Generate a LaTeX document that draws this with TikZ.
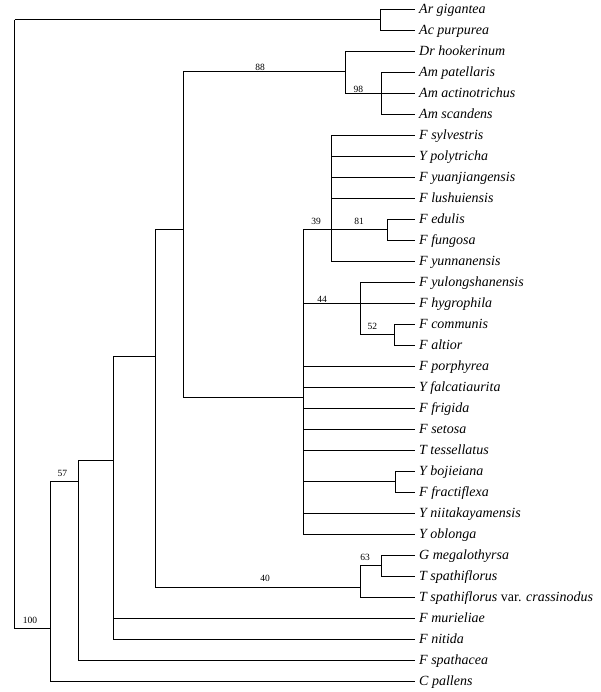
\documentclass[tikz,border=0pt]{standalone}
\usepackage{fontspec}
\setmainfont{Liberation Serif}
\begin{document}
\begin{tikzpicture}[x=1pt,y=-1pt,
  br/.style={line width=0.9pt, black},
  leaf/.style={anchor=base west, inner sep=0pt, font=\fontsize{14}{16}\selectfont\itshape},
  bs/.style={inner sep=0pt, font=\fontsize{9.5}{11}\selectfont}]
\useasboundingbox (0,0) rectangle (600,692);
% leaves
\foreach \n/\i/\t in {
  ar/0/{Ar gigantea}, ac/1/{Ac purpurea}, dr/2/{Dr hookerinum},
  ampat/3/{Am patellaris}, amact/4/{Am actinotrichus}, amsca/5/{Am scandens},
  fsyl/6/{F sylvestris}, ypol/7/{Y polytricha}, fyua/8/{F yuanjiangensis},
  flus/9/{F lushuiensis}, fedu/10/{F edulis}, ffun/11/{F fungosa},
  fyun/12/{F yunnanensis}, fyul/13/{F yulongshanensis}, fhyg/14/{F hygrophila},
  fcom/15/{F communis}, falt/16/{F altior}, fpor/17/{F porphyrea},
  yfal/18/{Y falcatiaurita}, ffri/19/{F frigida}, fset/20/{F setosa},
  ttes/21/{T tessellatus}, yboj/22/{Y bojieiana}, ffra/23/{F fractiflexa},
  ynii/24/{Y niitakayamensis}, yobl/25/{Y oblonga}, gmeg/26/{G megalothyrsa},
  tspa/27/{T spathiflorus}, tvar/28/{T spathiflorus {\upshape var.} crassinodus},
  fmur/29/{F murieliae}, fnit/30/{F nitida}, fspa/31/{F spathacea},
  cpal/32/{C pallens}}{
  \coordinate (\n) at (415,{9.3+21*\i});
  \node[leaf] (\n-t) at (419,{13.6+21*\i}) {\t};
}
% internal nodes
\coordinate (root) at (14.7,19.8);
\coordinate (arac) at (380.7,19.8);
\coordinate (n100) at (50,628.7);
\coordinate (n57) at (78,481.7);
\coordinate (n113) at (113.5,460.7);
\coordinate (n155) at (155.5,356);
\coordinate (n184) at (183.7,229.7);
\coordinate (n88) at (345,71);
\coordinate (n98) at (381,93.3);
\coordinate (nF) at (303.3,397.7);
\coordinate (n39) at (331.7,229.8);
\coordinate (n81) at (387.7,229.8);
\coordinate (n44) at (360,303.3);
\coordinate (n52) at (394.3,334.8);
\coordinate (nbf) at (395,481.8);
\coordinate (n40) at (360.3,587);
\coordinate (n63) at (381,565.8);
% edges
\foreach \p/\c in {root/arac, root/n100, arac/ar, arac/ac,
  n100/n57, n100/cpal, n57/n113, n57/fspa,
  n113/n155, n113/fmur, n113/fnit,
  n155/n184, n155/n40, n184/n88, n184/nF,
  n88/dr, n88/n98, n98/ampat, n98/amact, n98/amsca,
  nF/n39, nF/n44, nF/fpor, nF/yfal, nF/ffri, nF/fset, nF/ttes, nF/nbf, nF/ynii, nF/yobl,
  n39/fsyl, n39/ypol, n39/fyua, n39/flus, n39/n81, n39/fyun,
  n81/fedu, n81/ffun,
  n44/fyul, n44/fhyg, n44/n52, n52/fcom, n52/falt,
  nbf/yboj, nbf/ffra,
  n40/n63, n40/tvar, n63/gmeg, n63/tspa}{
  \draw[br] (\p) |- (\c);
}
% bootstrap values
\node[bs] (b88) at (260,67.5) {88};
\node[bs] (b98) at (358.3,89.3) {98};
\node[bs] (b39) at (316,221) {39};
\node[bs] (b81) at (359,221) {81};
\node[bs] (b44) at (322,299) {44};
\node[bs] (b52) at (372.3,326) {52};
\node[bs] (b57) at (62.3,473) {57};
\node[bs] (b100) at (30,620) {100};
\node[bs] (b63) at (365,557) {63};
\node[bs] (b40) at (265,578) {40};
\end{tikzpicture}
\end{document}
